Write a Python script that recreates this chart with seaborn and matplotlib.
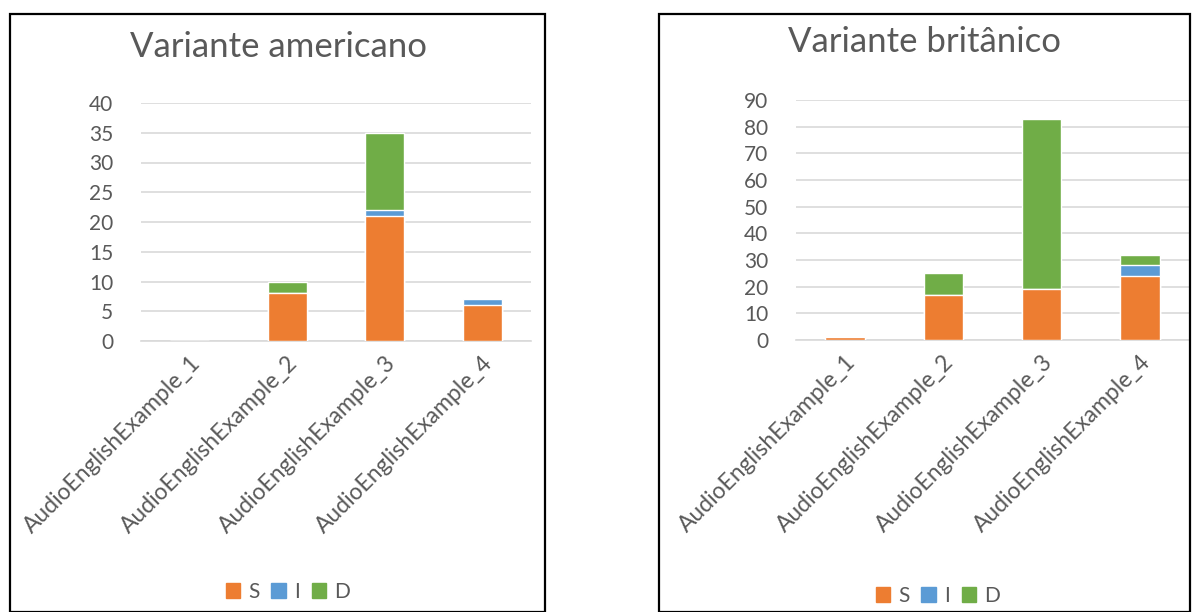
import matplotlib
matplotlib.use('Agg')
import matplotlib.pyplot as plt
import seaborn as sns
import pandas as pd
from matplotlib.patches import Patch, Rectangle

sns.set_style('white')
plt.rcParams['font.family'] = ['Lato', 'DejaVu Sans']

cor_s = '#ED7D31'
cor_i = '#5B9BD5'
cor_d = '#70AD47'
cinza = '#595959'

exemplos = ['AudioEnglishExample_1', 'AudioEnglishExample_2', 'AudioEnglishExample_3', 'AudioEnglishExample_4']

# Variante americano
am_s = [0, 8, 21, 6]
am_i = [0, 0, 1, 1]
am_d = [0, 2, 13, 0]

# Variante britanico
br_s = [1, 17, 19, 24]
br_i = [0, 0, 0, 4]
br_d = [0, 8, 64, 4]

W, H = 1194, 612
fig = plt.figure(figsize=(W / 100, H / 100), dpi=100)


def grafico(ax, s, i, d, ymax, passo):
    df = pd.DataFrame({'exemplo': exemplos, 'S': s, 'I': i, 'D': d})
    df['SI'] = df['S'] + df['I']
    df['SID'] = df['SI'] + df['D']
    # barras empilhadas: total por baixo, depois S+I, depois S
    sns.barplot(data=df, x='exemplo', y='SID', color=cor_d, width=0.4, saturation=1, ax=ax, zorder=2)
    sns.barplot(data=df, x='exemplo', y='SI', color=cor_i, width=0.4, saturation=1, ax=ax, zorder=3)
    sns.barplot(data=df, x='exemplo', y='S', color=cor_s, width=0.4, saturation=1, ax=ax, zorder=4)
    ax.set_ylim(0, ymax)
    ax.set_xlim(-0.5, 3.5)
    ax.set_yticks(range(0, ymax + 1, passo))
    ax.yaxis.grid(True, color='#D9D9D9', linewidth=1.2, zorder=0)
    ax.set_axisbelow(True)
    for sp in ['top', 'right', 'left']:
        ax.spines[sp].set_visible(False)
    ax.spines['bottom'].set_color('#D9D9D9')
    ax.spines['bottom'].set_linewidth(1.2)
    ax.tick_params(axis='y', length=0, pad=20, labelsize=15, labelcolor=cinza)
    ax.tick_params(axis='x', length=0, pad=8, labelsize=16.5, labelcolor=cinza)
    plt.setp(ax.get_xticklabels(), rotation=45, ha='right', rotation_mode='anchor')
    ax.set_xlabel('')
    ax.set_ylabel('')


ax1 = fig.add_axes([141 / W, 1 - 341 / H, 390 / W, 238 / H])
grafico(ax1, am_s, am_i, am_d, 40, 5)
ax2 = fig.add_axes([796 / W, 1 - 340 / H, 393 / W, 240 / H])
grafico(ax2, br_s, br_i, br_d, 90, 10)

# molduras dos paineis
fig.patches.append(Rectangle((10 / W, 0), 535 / W, 1 - 14 / H, transform=fig.transFigure,
                             fill=False, edgecolor='black', linewidth=1.6, clip_on=False))
fig.patches.append(Rectangle((659 / W, 0), 531 / W, 1 - 14 / H, transform=fig.transFigure,
                             fill=False, edgecolor='black', linewidth=1.6, clip_on=False))

fig.text(278 / W, 1 - 47 / H, 'Variante americano', ha='center', va='center', fontsize=25, color=cinza)
fig.text(925 / W, 1 - 42 / H, 'Variante britânico', ha='center', va='center', fontsize=25, color=cinza)

patches = [Patch(color=cor_s, label='S'), Patch(color=cor_i, label='I'), Patch(color=cor_d, label='D')]
for cx, cy in [(288, 592), (938, 596)]:
    leg = fig.legend(handles=patches, loc='center', bbox_to_anchor=(cx / W, 1 - cy / H), ncol=3,
                     frameon=False, fontsize=15, handlelength=0.7, handleheight=0.7,
                     handletextpad=0.4, columnspacing=0.55, labelcolor=cinza)

plt.savefig('out.png', dpi=100)
